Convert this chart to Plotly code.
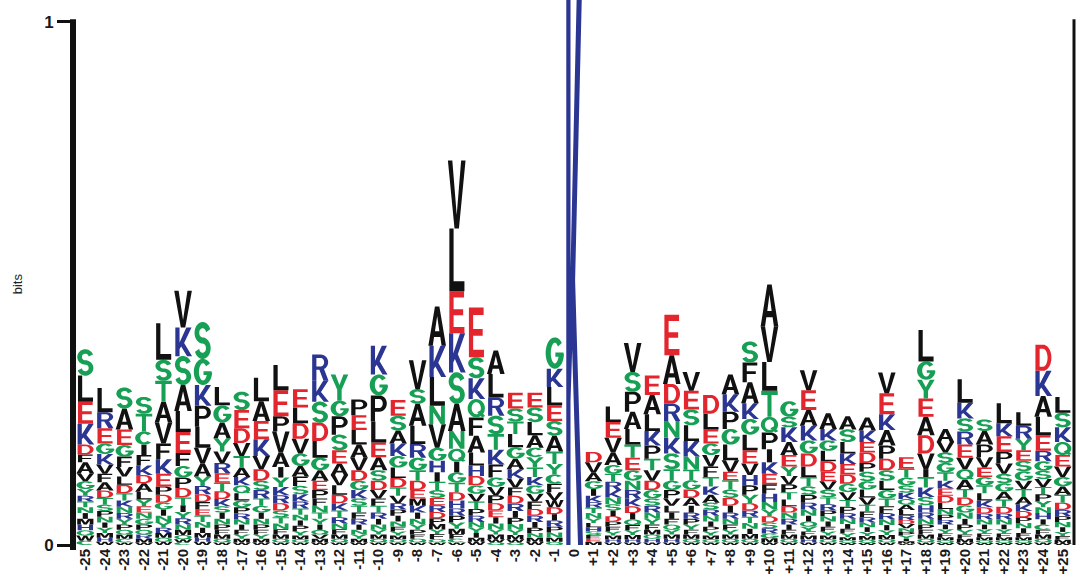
import numpy as np
import plotly.graph_objects as go

# ---------------- data ----------------
positions = list(range(-25, 26))
tick_labels = [str(p) if p <= 0 else "+%d" % p for p in positions]

# letters of each column, listed from the top of the stack downwards
stack_letters = [
    "SLEKDFAVGYRTNIMHQWC",   # -25
    "LREGKVFADTSPNIYMHW",    # -24
    "SAEGFVLDTKNRYPQMCW",    # -23
    "STCIFKDALYENGPQRMW",    # -22
    "LSTAVFKEPDGINYRMQW",    # -21
    "VKSALEFGPDTIYRNMQWC",   # -20
    "SGKPLVAYRDFETNIMHW",    # -19
    "LGAYVRETDKSINPFMQW",    # -18
    "SEDVTAKQLGPRNIFYMW",    # -17
    "LAEKVDSRTGINPFYMW",     # -16
    "LEPVAIYKRDSTNFMQW",     # -15
    "ELDVGAFSKRTNIPYMQW",    # -14
    "RKSDLGAEPFNTYIQVMW",    # -13
    "YGPSEAVLDKTRNFMQW",     # -12
    "PELAVDGKSTFRINYMW",     # -11
    "KGPLEASDVFTRINYMQW",    # -10
    "ESAKGLDTVRPINFYMQW",    # -9
    "VSALRGTDEMKINYPFQW",    # -8
    "AKLNVGHITSERDPMYFQW",   # -7
    "VLEKSANQIGTDHRPYMFCW",  # -6
    "ESKQFALHDGVTPRNYIMW",   # -5
    "ALRSTKFGVPDEINYMWQ",    # -4
    "ESTLGAKVFDRIPNYMWQ",    # -3
    "ESLACYTKGVFDRIPNMW",    # -2
    "GKLESATYCFVWDIRPNMQ",   # -1
    "K",                     # 0
    "DVAGIKRTNYLHSFEM",      # +1
    "LEVAGTRKNSIDPFYMHW",    # +2
    "VSPALTEGNRKDIQFYMHW",   # +3
    "EALKPTVDGSRNYFMQHW",    # +4
    "EADRNKSTGPVLIFQYMHW",   # +5
    "VESLKNTGDAIRPYFMQW",    # +6
    "DLEGVFTKASRNIPYMQW",    # +7
    "AKPGLVETSDIRNFYMQW",    # +8
    "SFAKGLEVHPYDRTNIMQW",   # +9
    "AVLTQPIKEFHNYDSRGMW",   # +10
    "GSKAEYVPTLDNRIFMQW",    # +11
    "VEAKGDLTSPRNIQYFMHW",   # +12
    "AKGLDEVSTRPNIFYMQW",    # +13
    "ASLKEDGVTPRNIFYMQW",    # +14
    "AKEDPSGLVTFRNIYMQW",    # +15
    "VEKAPDSLGTFRNIYMQW",    # +16
    "ETGSKQALRDVNPYIMW",     # +17
    "LGYEADVITKSHRNPFMQW",   # +18
    "AVSGTKEDLNPRIYFMQW",    # +19
    "LKSREVQATDGNIPYFMW",    # +20
    "SAPVEGTLKDRNIYFMQW",    # +21
    "LKEPVSGATDRNIYFMQW",    # +22
    "LRYESGVTAKDPNIFMQW",    # +23
    "DKALERGSVTPYNHICFMQW",  # +24
    "LSKQEVGATDRPNIYFMW",    # +25
]

# information (bits) of each letter, same order as stack_letters
stack_bits = [
    [.05, .05, .042, .04, .019, .015, .021, .015, .015, .013, .011, .011, .011, .011, .011, .011, .01, .01, .008],
    [.046, .031, .029, .02, .02, .018, .016, .016, .014, .013, .012, .011, .011, .01, .01, .009, .008, .006],
    [.04, .04, .03, .022, .02, .018, .016, .016, .014, .012, .012, .011, .011, .01, .009, .008, .007, .005],
    [.032, .034, .025, .02, .02, .018, .016, .016, .015, .013, .012, .012, .011, .01, .009, .008, .007, .005],
    [.07, .04, .04, .04, .04, .03, .028, .024, .016, .015, .013, .012, .012, .011, .01, .009, .008, .006],
    [.07, .055, .055, .05, .04, .04, .025, .022, .02, .018, .015, .013, .012, .012, .01, .01, .008, .006, .005],
    [.07, .05, .04, .04, .04, .03, .025, .018, .016, .015, .014, .012, .012, .011, .01, .009, .008, .006],
    [.035, .033, .03, .025, .022, .02, .018, .016, .015, .014, .012, .012, .011, .01, .009, .008, .007, .005],
    [.035, .035, .028, .025, .022, .018, .016, .015, .014, .013, .012, .011, .01, .01, .009, .008, .007, .005],
    [.045, .038, .035, .032, .025, .022, .018, .016, .014, .013, .012, .011, .01, .009, .008, .007, .005],
    [.048, .05, .029, .04, .028, .02, .018, .016, .015, .014, .013, .012, .011, .01, .008, .007, .005],
    [.035, .03, .03, .028, .024, .02, .018, .016, .014, .013, .012, .011, .01, .01, .009, .007, .006, .005],
    [.05, .04, .04, .035, .032, .024, .02, .018, .016, .014, .013, .012, .011, .01, .009, .008, .007, .005],
    [.05, .03, .035, .03, .025, .022, .02, .018, .016, .014, .013, .012, .011, .01, .008, .007, .005],
    [.03, .028, .028, .025, .024, .02, .018, .016, .014, .013, .012, .011, .01, .009, .008, .007, .005],
    [.055, .04, .05, .04, .028, .025, .02, .018, .016, .014, .013, .012, .011, .01, .009, .008, .007, .005],
    [.03, .028, .025, .024, .022, .02, .018, .016, .014, .012, .012, .011, .01, .009, .008, .007, .006, .005],
    [.055, .028, .042, .035, .026, .024, .02, .018, .016, .014, .013, .012, .011, .01, .009, .008, .007, .005],
    [.075, .06, .055, .035, .045, .025, .022, .018, .016, .015, .014, .013, .012, .011, .01, .009, .01, .006, .005],
    [.13, .12, .08, .075, .06, .052, .034, .025, .02, .02, .018, .016, .015, .014, .013, .012, .01, .009, .007, .005],
    [.095, .04, .04, .035, .035, .032, .025, .02, .018, .016, .015, .014, .013, .012, .011, .01, .009, .008, .006],
    [.045, .045, .035, .035, .03, .028, .025, .018, .016, .015, .014, .013, .012, .011, .01, .009, .006, .005],
    [.03, .025, .024, .025, .022, .02, .018, .017, .016, .015, .014, .013, .012, .011, .01, .008, .006, .005],
    [.028, .028, .025, .024, .018, .02, .018, .016, .016, .015, .014, .013, .012, .011, .01, .009, .008, .006],
    [.06, .035, .035, .03, .028, .03, .024, .02, .018, .016, .015, .014, .013, .012, .012, .011, .01, .008, .006],
    [1.1],
    [.02, .02, .016, .015, .013, .012, .011, .01, .01, .009, .008, .008, .007, .007, .006, .006],
    [.03, .03, .028, .024, .017, .015, .016, .014, .013, .012, .011, .01, .01, .009, .008, .007, .006, .005],
    [.055, .038, .038, .033, .03, .025, .024, .02, .018, .016, .015, .013, .012, .011, .01, .009, .008, .006, .005],
    [.037, .037, .032, .028, .025, .022, .02, .018, .016, .014, .013, .012, .011, .01, .009, .008, .007, .005],
    [.077, .055, .038, .033, .032, .03, .03, .022, .018, .016, .014, .013, .012, .011, .01, .009, .008, .007, .005],
    [.036, .036, .03, .03, .03, .025, .02, .018, .016, .015, .013, .012, .011, .01, .009, .008, .007, .005],
    [.036, .03, .027, .022, .022, .02, .018, .016, .015, .013, .012, .011, .01, .009, .008, .007, .006, .005],
    [.038, .033, .033, .03, .03, .022, .016, .018, .016, .015, .013, .012, .011, .01, .009, .008, .007, .005],
    [.04, .038, .04, .03, .03, .03, .025, .022, .02, .018, .016, .014, .012, .012, .011, .01, .009, .007, .005],
    [.08, .068, .055, .05, .03, .032, .025, .022, .02, .018, .016, .014, .013, .012, .011, .01, .009, .008, .005],
    [.03, .02, .028, .025, .022, .018, .016, .015, .014, .013, .012, .012, .011, .01, .009, .008, .007, .005],
    [.038, .038, .03, .028, .025, .025, .02, .018, .016, .015, .013, .012, .011, .01, .009, .008, .007, .006, .005],
    [.03, .022, .02, .02, .02, .018, .016, .015, .013, .012, .011, .01, .01, .009, .008, .007, .006, .005],
    [.025, .024, .022, .02, .02, .018, .016, .015, .013, .012, .011, .01, .009, .008, .008, .006, .005, .004],
    [.025, .022, .02, .02, .017, .018, .016, .015, .014, .013, .011, .01, .009, .009, .008, .007, .006, .004],
    [.04, .04, .03, .03, .025, .022, .02, .018, .016, .015, .013, .012, .011, .01, .009, .008, .006, .005],
    [.022, .017, .015, .014, .012, .011, .01, .01, .009, .008, .008, .007, .007, .006, .005, .004, .003],
    [.06, .035, .036, .035, .035, .035, .03, .015, .02, .018, .016, .014, .012, .011, .01, .009, .008, .007, .005],
    [.025, .02, .02, .018, .016, .015, .014, .013, .012, .011, .01, .009, .009, .008, .007, .006, .005, .004],
    [.045, .03, .025, .025, .025, .022, .02, .018, .016, .015, .014, .012, .011, .01, .009, .008, .007, .005],
    [.022, .026, .024, .02, .018, .016, .015, .014, .013, .012, .011, .01, .009, .008, .007, .006, .005, .004],
    [.038, .025, .03, .022, .02, .018, .016, .015, .014, .013, .011, .01, .009, .008, .007, .006, .005, .004],
    [.026, .025, .022, .02, .02, .018, .016, .015, .014, .013, .012, .011, .01, .009, .008, .006, .005, .004],
    [.05, .048, .04, .035, .03, .02, .018, .016, .015, .014, .013, .012, .011, .012, .01, .01, .009, .008, .007, .005],
    [.03, .028, .028, .025, .022, .02, .018, .016, .015, .014, .012, .011, .01, .009, .008, .007, .006, .004],
]

# ---------------- styling ----------------
RED, BLUE, GREEN, BLACK = "#e3252d", "#2b3592", "#17a055", "#111111"
letter_color = {}
for c in "AVLIPFMW":
    letter_color[c] = BLACK
for c in "STGCYNQ":
    letter_color[c] = GREEN
for c in "KRH":
    letter_color[c] = BLUE
for c in "DE":
    letter_color[c] = RED

# ---------------- glyph outlines in a unit box ----------------
def P(*pts):
    return np.array(pts, dtype=float)

def arc(cx, cy, rx, ry, a0, a1, n=20):
    t = np.radians(np.linspace(a0, a1, n))
    return np.column_stack([cx + rx * np.cos(t), cy + ry * np.sin(t)])

def stroke(c, hx, hy):
    d = np.gradient(c, axis=0)
    nrm = np.column_stack([-d[:, 1], d[:, 0]])
    nrm /= np.linalg.norm(nrm, axis=1, keepdims=True)
    off = nrm * np.array([hx, hy])
    return np.vstack([c + off, (c - off)[::-1]])

s_center = np.vstack([arc(0.5, 0.71, 0.31, 0.21, 15, 270, 26),
                      arc(0.5, 0.29, 0.31, 0.21, 90, -165, 26)[1:]])

GLYPHS = {
    "I": [(P((0.36, 0), (0.64, 0), (0.64, 1), (0.36, 1)), False)],
    "L": [(P((0.1, 0), (0.92, 0), (0.92, 0.16), (0.33, 0.16), (0.33, 1), (0.1, 1)), False)],
    "T": [(P((0.05, 1), (0.95, 1), (0.95, 0.84), (0.61, 0.84), (0.61, 0), (0.39, 0), (0.39, 0.84), (0.05, 0.84)), False)],
    "E": [(P((0.1, 0), (0.92, 0), (0.92, 0.15), (0.33, 0.15), (0.33, 0.43), (0.85, 0.43), (0.85, 0.57),
             (0.33, 0.57), (0.33, 0.85), (0.9, 0.85), (0.9, 1), (0.1, 1)), False)],
    "F": [(P((0.1, 0), (0.33, 0), (0.33, 0.42), (0.82, 0.42), (0.82, 0.56), (0.33, 0.56), (0.33, 0.85),
             (0.9, 0.85), (0.9, 1), (0.1, 1)), False)],
    "H": [(P((0.08, 0), (0.3, 0), (0.3, 0.42), (0.7, 0.42), (0.7, 0), (0.92, 0), (0.92, 1), (0.7, 1),
             (0.7, 0.58), (0.3, 0.58), (0.3, 1), (0.08, 1)), False)],
    "V": [(P((0.02, 1), (0.26, 1), (0.5, 0.2), (0.74, 1), (0.98, 1), (0.62, 0), (0.38, 0)), False)],
    "A": [(P((0.02, 0), (0.26, 0), (0.33, 0.22), (0.67, 0.22), (0.74, 0), (0.98, 0), (0.62, 1), (0.38, 1)), False),
          (P((0.38, 0.37), (0.62, 0.37), (0.5, 0.76)), True)],
    "K": [(P((0.08, 0), (0.31, 0), (0.31, 0.25), (0.4, 0.34), (0.72, 0), (0.99, 0), (0.56, 0.46), (0.96, 1),
             (0.68, 1), (0.31, 0.48), (0.31, 1), (0.08, 1)), False)],
    "M": [(P((0.06, 0), (0.26, 0), (0.26, 0.72), (0.42, 0), (0.58, 0), (0.74, 0.72), (0.74, 0), (0.94, 0),
             (0.94, 1), (0.66, 1), (0.5, 0.38), (0.34, 1), (0.06, 1)), False)],
    "N": [(P((0.08, 0), (0.29, 0), (0.29, 0.64), (0.7, 0), (0.92, 0), (0.92, 1), (0.71, 1), (0.71, 0.36),
             (0.3, 1), (0.08, 1)), False)],
    "W": [(P((0.0, 1), (0.18, 1), (0.29, 0.3), (0.41, 1), (0.59, 1), (0.71, 0.3), (0.82, 1), (1.0, 1),
             (0.8, 0), (0.62, 0), (0.5, 0.62), (0.38, 0), (0.2, 0)), False)],
    "Y": [(P((0.02, 1), (0.28, 1), (0.5, 0.6), (0.72, 1), (0.98, 1), (0.62, 0.42), (0.62, 0), (0.38, 0),
             (0.38, 0.42)), False)],
    "P": [(np.vstack([P((0.08, 0), (0.31, 0), (0.31, 0.38)), arc(0.55, 0.69, 0.4, 0.31, -90, 90), P((0.08, 1))]), False),
          (np.vstack([P((0.31, 0.52)), arc(0.55, 0.69, 0.18, 0.17, -90, 90), P((0.31, 0.86))]), True)],
    "R": [(np.vstack([P((0.08, 0), (0.31, 0), (0.31, 0.42)), arc(0.55, 0.71, 0.4, 0.29, -90, 90), P((0.08, 1))]), False),
          (np.vstack([P((0.31, 0.55)), arc(0.55, 0.71, 0.18, 0.16, -90, 90), P((0.31, 0.87))]), True),
          (P((0.45, 0.46), (0.7, 0), (0.97, 0), (0.7, 0.5)), False)],
    "D": [(np.vstack([P((0.08, 0)), arc(0.5, 0.5, 0.45, 0.5, -90, 90), P((0.08, 1))]), False),
          (np.vstack([P((0.31, 0.16)), arc(0.5, 0.5, 0.24, 0.34, -90, 90), P((0.31, 0.84))]), True)],
    "Q": [(arc(0.5, 0.5, 0.47, 0.5, 0, 360, 36), False),
          (arc(0.5, 0.5, 0.25, 0.33, 0, 360, 36), True),
          (P((0.55, 0.28), (0.72, 0.38), (0.98, 0.08), (0.82, 0.0)), False)],
    "C": [(stroke(arc(0.52, 0.5, 0.36, 0.415, 42, 318, 30), 0.14, 0.085), False)],
    "G": [(stroke(arc(0.52, 0.5, 0.36, 0.415, 40, 358, 30), 0.14, 0.085), False),
          (P((0.55, 0.38), (0.99, 0.38), (0.99, 0.52), (0.55, 0.52)), False)],
    "S": [(stroke(s_center, 0.13, 0.085), False)],
}

def orient(pts, ccw):
    x, y = pts[:, 0], pts[:, 1]
    area = np.sum(x * np.roll(y, -1) - np.roll(x, -1) * y)
    if (area > 0) != ccw:
        pts = pts[::-1]
    return pts

WIDTH = 0.94

def letter_path(letter, xc, y0, h):
    out = ""
    for pts, hole in GLYPHS[letter]:
        q = orient(np.clip(pts, -0.02, 1.02), not hole)
        xs = xc - WIDTH / 2 + WIDTH * q[:, 0]
        ys = y0 + h * q[:, 1]
        out += "M" + "L".join("%.4f,%.5f" % (a, b) for a, b in zip(xs, ys)) + "Z"
    return out

# ---------------- build figure ----------------
shapes = []
for pos, letters, bits in zip(positions, stack_letters, stack_bits):
    y = 0.0
    for ch, h in zip(reversed(letters), reversed(bits)):
        shapes.append(dict(type="path", xref="x", yref="y", path=letter_path(ch, pos, y, h),
                           fillcolor=letter_color[ch], fillrule="nonzero",
                           line=dict(width=0), layer="above"))
        y += h

YMAX = 1.042
ONE = 1.0 / YMAX
# y-axis spine (0 to 1 bit) and right border
shapes.append(dict(type="line", xref="paper", yref="paper", x0=0, x1=0, y0=-0.009, y1=ONE + 0.005,
                   line=dict(color="#111111", width=6)))
shapes.append(dict(type="line", xref="paper", yref="paper", x0=0.999, x1=0.999, y0=0.0, y1=ONE + 0.005,
                   line=dict(color="#111111", width=3)))

fig = go.Figure()
fig.add_trace(go.Scatter(x=positions, y=[0] * len(positions), mode="markers",
                         marker=dict(opacity=0), hoverinfo="skip", showlegend=False))

fig.update_layout(
    width=1076, height=588,
    margin=dict(l=73, r=1, t=0, b=43),
    paper_bgcolor="white", plot_bgcolor="white",
    shapes=shapes,
    font=dict(family="Liberation Sans, Arial, sans-serif", color="#222222"),
    xaxis=dict(range=[-25.63, 25.63], tickmode="array", tickvals=positions, ticktext=tick_labels,
               tickangle=-90, tickfont=dict(size=15, color="#1a1a1a", weight="bold"), showgrid=False,
               zeroline=False, showline=False, ticks="", automargin=False),
    yaxis=dict(range=[0, YMAX], tickmode="array", tickvals=[0, 1], ticktext=["0", "1"],
               ticks="outside", ticklen=15, tickwidth=3, tickcolor="#111111", automargin=False,
               tickfont=dict(size=17, color="#1a1a1a", weight="bold"), showgrid=False, zeroline=False,
               showline=False),
    annotations=[dict(text="bits", xref="paper", yref="paper", x=-0.055, y=0.48, showarrow=False,
                      textangle=-90, font=dict(size=13, color="#222222"), xanchor="center", yanchor="middle")],
)

fig.write_html("out.html", config={"displayModeBar": False},
               post_script="document.body.style.margin='0px';")
